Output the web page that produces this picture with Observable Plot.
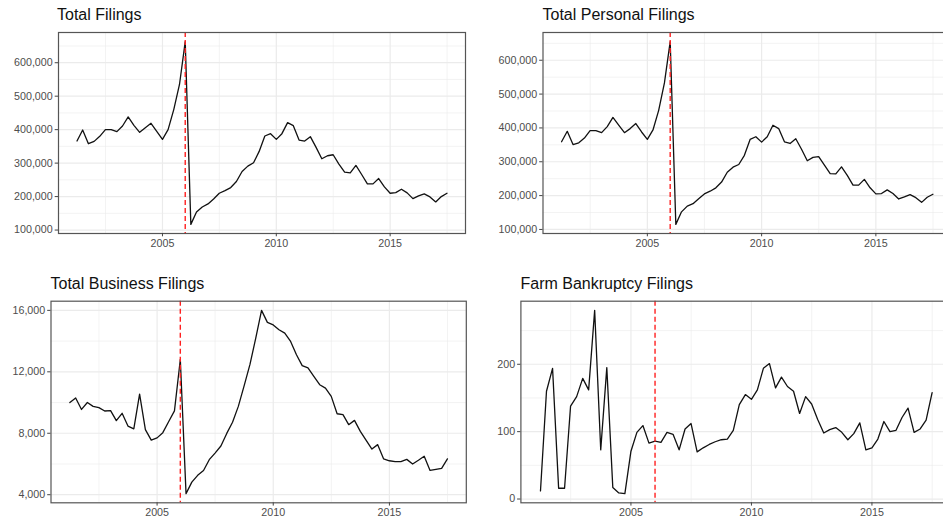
<!DOCTYPE html>
<html>
<head>
<meta charset="utf-8">
<script src="https://cdn.jsdelivr.net/npm/d3@7"></script>
<script src="https://cdn.jsdelivr.net/npm/@observablehq/plot@0.6"></script>
<style>
  html, body { margin: 0; padding: 0; background: #ffffff; }
  #wrap { position: relative; width: 943px; height: 523px; overflow: hidden; background: #ffffff;
          font-family: "Liberation Sans", Arial, Helvetica, sans-serif; }
  .panel { position: absolute; }
  .title { position: absolute; font-size: 16px; line-height: 16px; color: #111111; white-space: nowrap; }
</style>
</head>
<body>
<div id="wrap"></div>
<script>
// ---- Data (quarterly, 2001 Q1 .. 2017 Q2) ----
const firstQuarterEnd = "2001-04-01";
const lastQuarterEnd = "2017-07-01";

const totalFilings = [
  366000, 399000, 358000, 365000, 380000, 400000, 400000, 394000, 411000, 438000,
  413000, 392000, 406000, 419000, 395000, 371000, 400000, 460000, 535000, 663000,
  117000, 154000, 169000, 178000, 193000, 210000, 218000, 227000, 245000, 275000,
  291000, 301000, 335000, 381000, 388000, 371000, 388000, 421000, 412000, 369000,
  366000, 379000, 347000, 313000, 322000, 325000, 297000, 273000, 271000, 293000,
  266000, 238000, 238000, 254000, 229000, 210000, 212000, 222000, 211000, 194000,
  202000, 208000, 199000, 184000, 200000, 210000
];

const personalFilings = [
  359000, 390000, 351000, 356000, 370000, 392000, 392000, 386000, 404000, 431000,
  408000, 386000, 398000, 413000, 388000, 366000, 394000, 452000, 533000, 655000,
  115000, 152000, 169000, 176000, 191000, 205000, 213000, 223000, 240000, 269000,
  284000, 292000, 319000, 366000, 374000, 358000, 374000, 408000, 398000, 359000,
  354000, 368000, 337000, 303000, 313000, 315000, 290000, 265000, 264000, 285000,
  260000, 231000, 231000, 248000, 223000, 205000, 206000, 217000, 206000, 190000,
  196000, 203000, 194000, 180000, 195000, 204000
];

const businessFilings = [
  10000, 10300, 9550, 10000, 9750, 9670, 9450, 9470, 8820, 9300,
  8470, 8290, 10550, 8240, 7550, 7700, 8040, 8750, 9460, 12800,
  4070, 4820, 5260, 5580, 6280, 6710, 7170, 7990, 8720, 9750,
  11100, 12500, 14200, 16000, 15220, 15050, 14740, 14520, 13980, 13110,
  12400, 12250, 11700, 11160, 10940, 10400, 9270, 9210, 8560, 8840,
  8120, 7540, 6970, 7260, 6340, 6210, 6150, 6150, 6300, 6000,
  6240, 6500, 5580, 5650, 5710, 6330
];

const farmFilings = [
  12, 160, 194, 16, 16, 138, 152, 179, 162, 280,
  73, 195, 17, 9, 8, 71, 99, 109, 83, 86,
  84, 99, 96, 73, 104, 112, 70, 76, 81, 85,
  88, 89, 102, 140, 155, 148, 162, 194, 201, 165,
  181, 167, 160, 127, 152, 141, 118, 98, 103, 106,
  99, 88, 97, 113, 73, 76, 89, 115, 100, 102,
  121, 135, 99, 104, 117, 158
];

const panelTitles = ["Total Filings", "Total Personal Filings", "Total Business Filings", "Farm Bankruptcy Filings"];

// Tick values
const xTickYears = [2005, 2010, 2015];
const xMinorYears = [2002, 2007, 2012, 2017]; // minor grid mid-year
const yTicksFilings = [100000, 200000, 300000, 400000, 500000, 600000];
const yMinorFilings = [150000, 250000, 350000, 450000, 550000, 650000];
const yTicksBusiness = [4000, 8000, 12000, 16000];
const yMinorBusiness = [6000, 10000, 14000];
const yTicksFarm = [0, 100, 200];
const yMinorFarm = [50, 150, 250];
const cutoffDate = "2006-01-01";

// ---- Build ----
const quarterDates = d3.utcMonth.range(new Date(firstQuarterEnd), d3.utcDay.offset(new Date(lastQuarterEnd), 1), 3);
const xMajorDates = xTickYears.map(y => new Date(Date.UTC(y, 0, 1)));
const xMinorDates = xMinorYears.map(y => new Date((Date.UTC(y, 0, 1) + Date.UTC(y + 1, 0, 1)) / 2));
const cutoff = new Date(cutoffDate);

const panels = [
  {title: panelTitles[0], values: totalFilings, yTicks: yTicksFilings, yMinor: yMinorFilings,
   left: 0, top: 0, width: 470, height: 260, ml: 58, mr: 5, mt: 32, mb: 27, tx: 57, tBase: 20.7},
  {title: panelTitles[1], values: personalFilings, yTicks: yTicksFilings, yMinor: yMinorFilings,
   left: 470, top: 0, width: 485, height: 260, ml: 72.5, mr: 4, mt: 32, mb: 27, tx: 542.5, tBase: 20.7},
  {title: panelTitles[2], values: businessFilings, yTicks: yTicksBusiness, yMinor: yMinorBusiness,
   left: 0, top: 260, width: 470, height: 263, ml: 50.5, mr: 4.2, mt: 40.7, mb: 20.7, tx: 50.5, tBase: 289.3},
  {title: panelTitles[3], values: farmFilings, yTicks: yTicksFarm, yMinor: yMinorFarm,
   left: 470, top: 260, width: 485, height: 263, ml: 50.4, mr: 3.8, mt: 40.7, mb: 20.7, tx: 520.5, tBase: 289.3}
];

const wrap = document.getElementById("wrap");
const gridColor = "#EBEBEB";
const axisTextColor = "#4D4D4D";

for (const p of panels) {
  const data = quarterDates.map((date, i) => ({date, value: p.values[i]}));
  const [lo, hi] = d3.extent(p.values);
  const r = hi - lo;
  const x0 = +quarterDates[0], x1 = +quarterDates[quarterDates.length - 1];
  const xs = x1 - x0;
  const yDomain = [lo - 0.05 * r, hi + 0.05 * r];
  const inY = v => v >= yDomain[0] && v <= yDomain[1];

  const chart = Plot.plot({
    width: p.width,
    height: p.height,
    marginLeft: p.ml, marginRight: p.mr, marginTop: p.mt, marginBottom: p.mb,
    style: {fontFamily: '"Liberation Sans", Arial, Helvetica, sans-serif', fontSize: "10.7px",
            background: "transparent", overflow: "visible", color: axisTextColor},
    x: {type: "utc", domain: [new Date(x0 - 0.05 * xs), new Date(x1 + 0.05 * xs)]},
    y: {domain: yDomain},
    marks: [
      Plot.gridY({ticks: p.yMinor.filter(inY), stroke: gridColor, strokeOpacity: 1, strokeWidth: 0.6}),
      Plot.gridX({ticks: xMinorDates, stroke: gridColor, strokeOpacity: 1, strokeWidth: 0.6}),
      Plot.gridY({ticks: p.yTicks, stroke: gridColor, strokeOpacity: 1, strokeWidth: 1.2}),
      Plot.gridX({ticks: xMajorDates, stroke: gridColor, strokeOpacity: 1, strokeWidth: 1.2}),
      Plot.line(data, {x: "date", y: "value", stroke: "#111111", strokeWidth: 1.3}),
      Plot.ruleX([cutoff], {stroke: "#FF2020", strokeWidth: 1.4, strokeDasharray: "5,3"}),
      Plot.frame({stroke: "#555555", strokeWidth: 1.2}),
      Plot.axisX({ticks: xMajorDates, tickFormat: d3.utcFormat("%Y"), tickSize: 3.3, tickPadding: 2.5,
                  label: null, stroke: "#444444", fill: axisTextColor}),
      Plot.axisY({ticks: p.yTicks, tickFormat: d3.format(","), tickSize: 3.3, tickPadding: 2.5,
                  label: null, stroke: "#444444", fill: axisTextColor})
    ]
  });
  chart.classList.add("panel");
  chart.style.left = p.left + "px";
  chart.style.top = p.top + "px";
  wrap.appendChild(chart);

  const t = document.createElement("div");
  t.className = "title";
  t.textContent = p.title;
  t.style.left = p.tx + "px";
  t.style.top = (p.tBase - 13.55) + "px";
  wrap.appendChild(t);
}
</script>
</body>
</html>
